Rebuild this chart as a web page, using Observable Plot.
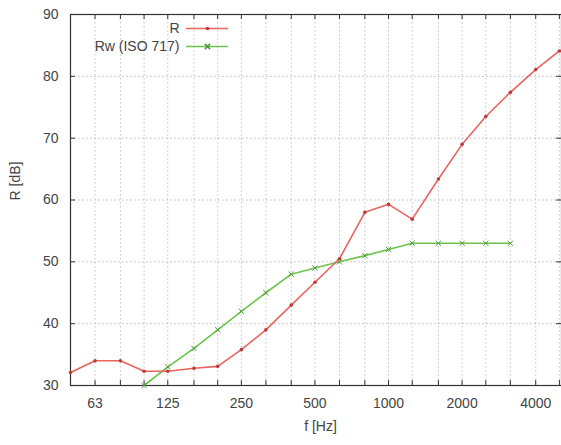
<!DOCTYPE html>
<html>
<head>
<meta charset="utf-8">
<script src="https://cdn.jsdelivr.net/npm/d3@7"></script>
<script src="https://cdn.jsdelivr.net/npm/@observablehq/plot@0.6"></script>
<style>
  html, body { margin: 0; padding: 0; background: #fff; }
  #chart { width: 561px; height: 445px; overflow: hidden; }
</style>
</head>
<body>
<div id="chart"></div>
<script>
// Third-octave band centre frequencies (Hz)
const bands = [50, 63, 80, 100, 125, 160, 200, 250, 315, 400, 500, 630, 800, 1000, 1250, 1600, 2000, 2500, 3150, 4000, 5000];
// Measured sound reduction index R (dB)
const R = [32.1, 34.0, 34.0, 32.3, 32.3, 32.8, 33.1, 35.8, 39.0, 43.0, 46.7, 50.5, 58.0, 59.3, 56.9, 63.4, 69.0, 73.5, 77.4, 81.1, 84.1];
// Shifted ISO 717 reference curve (100 Hz .. 3150 Hz)
const rwBands = [100, 125, 160, 200, 250, 315, 400, 500, 630, 800, 1000, 1250, 1600, 2000, 2500, 3150];
const Rw = [30, 33, 36, 39, 42, 45, 48, 49, 50, 51, 52, 53, 53, 53, 53, 53];
// Axis ticks
const xTickLabels = [63, 125, 250, 500, 1000, 2000, 4000];
const yTicks = [30, 40, 50, 60, 70, 80, 90];
// Legend entries
const legendNames = ["R", "Rw (ISO 717)"];

const rData = bands.map((f, i) => ({f, v: R[i]}));
const wData = rwBands.map((f, i) => ({f, v: Rw[i]}));

const W = 561, H = 445, mL = 70, mR = 0, mT = 14, mB = 60;
const xDomain = [50, 5100], yDomain = [30, 90];
const red = "#e8645e", green = "#6cc44c", ink = "#444";

// helpers to place legend items at pixel positions through the scales' inverse
const xs = d3.scaleLog(xDomain, [mL, W - mR]);
const ys = d3.scaleLinear(yDomain, [H - mB, mT]);
const legendY = [ys.invert(28), ys.invert(46)];
const legX1 = xs.invert(186), legX2 = xs.invert(228), legXm = xs.invert(207);

const plotW = W - mL - mR, plotH = H - mT - mB;

const chart = Plot.plot({
  width: W, height: H,
  marginLeft: mL, marginRight: mR, marginTop: mT, marginBottom: mB,
  style: {fontFamily: "'Liberation Sans', Arial, sans-serif", fontSize: "14px", color: ink, background: "#fff"},
  x: {type: "log", domain: xDomain, axis: null},
  y: {domain: yDomain, axis: null},
  marks: [
    Plot.gridX(bands, {stroke: "#888", strokeOpacity: 0.5, strokeDasharray: "1.5,2.5"}),
    Plot.gridY(yTicks.slice(1, -1), {stroke: "#888", strokeOpacity: 0.6, strokeDasharray: "1.5,2.5"}),
    // inward ticks
    Plot.tickX(bands, {x: d => d, stroke: "#333", insetTop: plotH - 5}),
    Plot.tickX(bands, {x: d => d, stroke: "#333", insetBottom: plotH - 5}),
    Plot.tickY(yTicks, {y: d => d, stroke: "#333", insetRight: plotW - 5}),
    Plot.tickY(yTicks, {y: d => d, stroke: "#333", insetLeft: plotW - 5}),
    // tick labels
    Plot.text(xTickLabels, {x: d => d, y: yDomain[0], dy: 18, text: d => String(d), fontSize: 14, fill: ink}),
    Plot.text(yTicks, {x: xDomain[0], y: d => d, dx: -12, textAnchor: "end", text: d => String(d), fontSize: 14, fill: ink}),
    Plot.frame({stroke: "#333", strokeWidth: 1.2}),
    // series
    Plot.line(wData, {x: "f", y: "v", stroke: green, strokeWidth: 1.6}),
    Plot.dot(wData, {x: "f", y: "v", symbol: "times", r: 2.5, stroke: "#4a9a3a", strokeWidth: 1}),
    Plot.line(rData, {x: "f", y: "v", stroke: red, strokeWidth: 1.6}),
    Plot.dot(rData, {x: "f", y: "v", r: 1.8, fill: "#c03a3a", stroke: "none"}),
    // legend
    Plot.text(legendNames, {x: xs.invert(179), y: (d, i) => legendY[i], text: d => d, textAnchor: "end", fontSize: 14, fill: ink}),
    Plot.ruleY([legendY[0]], {y: d => d, x1: legX1, x2: legX2, stroke: red, strokeWidth: 1.4}),
    Plot.ruleY([legendY[1]], {y: d => d, x1: legX1, x2: legX2, stroke: green, strokeWidth: 1.6}),
    Plot.dot([legendY[0]], {x: legXm, y: d => d, r: 1.8, fill: "#c03a3a"}),
    Plot.dot([legendY[1]], {x: legXm, y: d => d, symbol: "times", r: 2.5, stroke: "#4a9a3a"}),
    // axis titles
    Plot.text(["f [Hz]"], {frameAnchor: "bottom", dx: 320 - (mL + plotW / 2), dy: 45, text: d => d, fontSize: 14, fill: ink}),
    Plot.text(["R [dB]"], {frameAnchor: "left", dx: -55, dy: 200 - (mT + plotH / 2), rotate: -90, text: d => d, fontSize: 14, fill: ink})
  ]
});
document.getElementById("chart").appendChild(chart);
</script>
</body>
</html>
